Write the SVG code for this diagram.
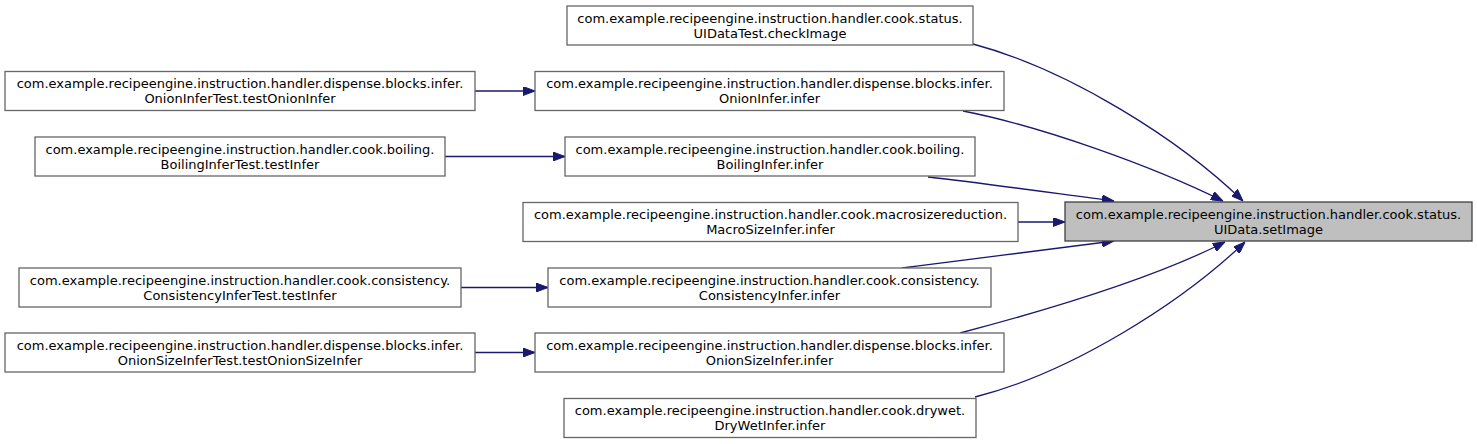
<svg xmlns="http://www.w3.org/2000/svg" width="1477" height="444" viewBox="0 0 1477 444">
<style>
.n rect{fill:#ffffff;stroke:#666666;stroke-width:1.3}
.t rect{fill:#bfbfbf;stroke:#404040;stroke-width:1.3}
text{font-family:"DejaVu Sans","Liberation Sans",sans-serif;font-size:13px;fill:#000000;text-anchor:middle}
.e path{fill:none;stroke:#191970;stroke-width:1.3;marker-end:url(#ah)}
</style>
<defs>
<marker id="ah" markerUnits="userSpaceOnUse" viewBox="0 0 12 9" refX="12" refY="4.5" markerWidth="12" markerHeight="9" orient="auto">
<path d="M0,0 L12,4.5 L0,9 z" fill="#191970" stroke="#191970" stroke-width="1"/>
</marker>
</defs>
<g id="connectors" class="e">
<path d="M973,44 C1070,70 1180,140 1243,201"/>
<path d="M963,111 C1040,126 1150,165 1223,201"/>
<path d="M928,177 C990,184 1060,194 1114,201"/>
<path d="M1018,222 L1065,222"/>
<path d="M902,268 C980,258 1060,248 1114,241"/>
<path d="M960,333 C1040,312 1150,280 1225,242"/>
<path d="M975,397 C1070,373 1180,304 1245,242"/>
<path d="M475,91 L535,91"/>
<path d="M445,156.5 L565,156.5"/>
<path d="M461,287.5 L548,287.5"/>
<path d="M475,352.5 L535,352.5"/>
</g>
<g id="target" class="t">
<rect x="1065" y="202" width="407" height="39"/>
<text x="1268.5" y="218.5">com.example.recipeengine.instruction.handler.cook.status.</text>
<text x="1268.5" y="233.5">UIData.setImage</text>
</g>
<g id="checkImage" class="n">
<rect x="567" y="6" width="406" height="39"/>
<text x="770" y="22.5">com.example.recipeengine.instruction.handler.cook.status.</text>
<text x="770" y="37.5">UIDataTest.checkImage</text>
</g>
<g id="onionInfer" class="n">
<rect x="535" y="71.5" width="469" height="39"/>
<text x="769.5" y="88">com.example.recipeengine.instruction.handler.dispense.blocks.infer.</text>
<text x="769.5" y="103">OnionInfer.infer</text>
</g>
<g id="boilingInfer" class="n">
<rect x="565" y="137" width="410" height="39"/>
<text x="770" y="153.5">com.example.recipeengine.instruction.handler.cook.boiling.</text>
<text x="770" y="168.5">BoilingInfer.infer</text>
</g>
<g id="macroSizeInfer" class="n">
<rect x="523" y="202.5" width="495" height="39"/>
<text x="770.5" y="219">com.example.recipeengine.instruction.handler.cook.macrosizereduction.</text>
<text x="770.5" y="234">MacroSizeInfer.infer</text>
</g>
<g id="consistencyInfer" class="n">
<rect x="548" y="268" width="443" height="39"/>
<text x="769.5" y="284.5">com.example.recipeengine.instruction.handler.cook.consistency.</text>
<text x="769.5" y="299.5">ConsistencyInfer.infer</text>
</g>
<g id="onionSizeInfer" class="n">
<rect x="535" y="333" width="469" height="39"/>
<text x="769.5" y="349.5">com.example.recipeengine.instruction.handler.dispense.blocks.infer.</text>
<text x="769.5" y="364.5">OnionSizeInfer.infer</text>
</g>
<g id="dryWetInfer" class="n">
<rect x="564" y="398.5" width="412" height="39"/>
<text x="770" y="415">com.example.recipeengine.instruction.handler.cook.drywet.</text>
<text x="770" y="430">DryWetInfer.infer</text>
</g>
<g id="onionInferTest" class="n">
<rect x="5" y="71.5" width="470" height="39"/>
<text x="240" y="88">com.example.recipeengine.instruction.handler.dispense.blocks.infer.</text>
<text x="240" y="103">OnionInferTest.testOnionInfer</text>
</g>
<g id="boilingInferTest" class="n">
<rect x="35" y="137" width="410" height="39"/>
<text x="240" y="153.5">com.example.recipeengine.instruction.handler.cook.boiling.</text>
<text x="240" y="168.5">BoilingInferTest.testInfer</text>
</g>
<g id="consistencyInferTest" class="n">
<rect x="19" y="268" width="442" height="39"/>
<text x="240" y="284.5">com.example.recipeengine.instruction.handler.cook.consistency.</text>
<text x="240" y="299.5">ConsistencyInferTest.testInfer</text>
</g>
<g id="onionSizeInferTest" class="n">
<rect x="5" y="333" width="470" height="39"/>
<text x="240" y="349.5">com.example.recipeengine.instruction.handler.dispense.blocks.infer.</text>
<text x="240" y="364.5">OnionSizeInferTest.testOnionSizeInfer</text>
</g>
</svg>
